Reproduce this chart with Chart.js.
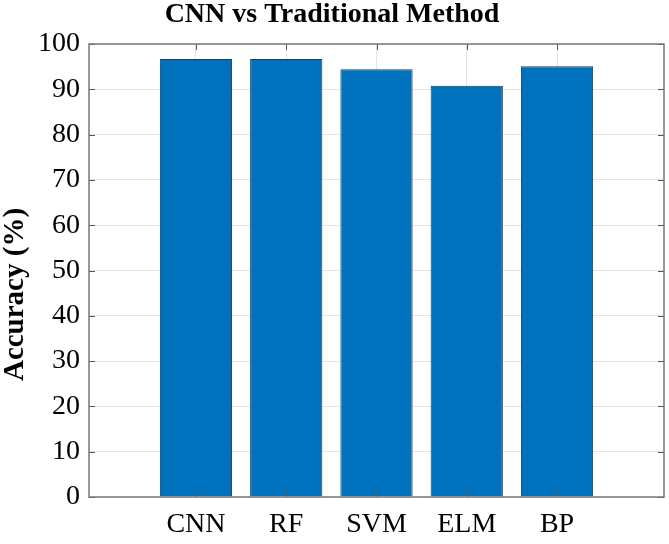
<!DOCTYPE html>
<html>
<head>
<meta charset="utf-8">
<script src="https://cdn.jsdelivr.net/npm/chart.js@4.4.1/dist/chart.umd.min.js"></script>
<style>
  html, body { margin: 0; padding: 0; background: #fff; }
  #wrap { width: 669px; height: 544px; }
</style>
</head>
<body>
<div id="wrap"><canvas id="chart"></canvas></div>
<script>
// data
const methods = ['CNN', 'RF', 'SVM', 'ELM', 'BP'];
const accuracy = [96.7, 96.7, 94.4, 90.8, 95.1];
const yTicks = [0, 10, 20, 30, 40, 50, 60, 70, 80, 90, 100];
const yLabel = 'Accuracy (%)';

const SERIF = '"Liberation Serif", "Times New Roman", serif';

// MATLAB-style box with inner tick marks, plus the y label
const boxTicks = {
    id: 'boxTicks',
    afterDatasetsDraw(chart) {
        const ctx = chart.ctx;
        const a = chart.chartArea;
        const xs = chart.scales.x, ys = chart.scales.y;
        const len = 6;
        ctx.save();
        ctx.strokeStyle = '#555';
        ctx.lineWidth = 1;
        ctx.beginPath();
        yTicks.forEach(v => {
            const y = Math.round(ys.getPixelForValue(v)) + 0.5;
            ctx.moveTo(a.left, y); ctx.lineTo(a.left + len, y);
            ctx.moveTo(a.right, y); ctx.lineTo(a.right - len, y);
        });
        methods.forEach((m, i) => {
            const x = Math.round(xs.getPixelForValue(i + 1)) + 0.5;
            ctx.moveTo(x, a.bottom); ctx.lineTo(x, a.bottom - len);
            ctx.moveTo(x, a.top); ctx.lineTo(x, a.top + len);
        });
        ctx.stroke();
        ctx.strokeStyle = '#777';
        ctx.lineWidth = 1.5;
        ctx.strokeRect(a.left, a.top, a.right - a.left, a.bottom - a.top);

        // y axis title, sits a bit below the middle like the original
        ctx.translate(16, (a.top + a.bottom) / 2 + 24);
        ctx.rotate(-Math.PI / 2);
        ctx.fillStyle = '#000';
        ctx.font = 'bold 29px ' + SERIF;
        ctx.textAlign = 'center';
        ctx.textBaseline = 'middle';
        ctx.fillText(yLabel, 0, 0);
        ctx.restore();
    }
};

new Chart(document.getElementById('chart'), {
    type: 'bar',
    data: {
        datasets: [{
            data: methods.map((m, i) => ({ x: i + 1, y: accuracy[i] })),
            backgroundColor: '#0072BD',
            borderColor: '#1f3b57',
            borderWidth: 1,
            barPercentage: 0.8,
            categoryPercentage: 1.0
        }]
    },
    options: {
        responsive: true,
        maintainAspectRatio: false,
        animation: false,
        layout: { padding: { left: 0, right: 5, top: 0, bottom: 0 } },
        plugins: {
            legend: { display: false },
            tooltip: { enabled: false },
            title: {
                display: true,
                text: 'CNN vs Traditional Method',
                color: '#000',
                font: { family: SERIF, size: 28, weight: 'bold', lineHeight: 1 },
                padding: { top: 1, bottom: 15 }
            }
        },
        scales: {
            x: {
                type: 'linear',
                offset: false,
                min: -0.185,
                max: 6.185,
                afterBuildTicks: (s) => { s.ticks = methods.map((m, i) => ({ value: i + 1 })); },
                afterFit: (s) => { s.height = 47; },
                ticks: {
                    color: '#000',
                    font: { family: SERIF, size: 28 },
                    padding: 11,
                    maxRotation: 0,
                    autoSkip: false,
                    callback: (v) => methods[v - 1]
                },
                grid: { color: '#e4e4e4', drawTicks: false, offset: false },
                border: { display: false }
            },
            y: {
                min: 0,
                max: 100,
                afterBuildTicks: (s) => { s.ticks = yTicks.map(v => ({ value: v })); },
                afterFit: (s) => { s.width = 89; },
                ticks: {
                    color: '#000',
                    font: { family: SERIF, size: 28 },
                    padding: 9
                },
                grid: { color: '#e4e4e4', drawTicks: false },
                border: { display: false }
            }
        }
    },
    plugins: [boxTicks]
});
</script>
</body>
</html>
